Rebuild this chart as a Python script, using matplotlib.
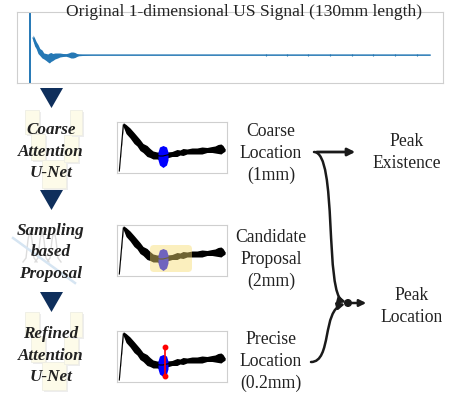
import matplotlib
matplotlib.use("Agg")
import matplotlib.pyplot as plt
from matplotlib.patches import Polygon, Rectangle, FancyBboxPatch, FancyArrowPatch, Circle
from matplotlib.path import Path

W, H = 454, 401
SERIF = ["Liberation Serif", "DejaVu Serif"]

# --- signal original (mm, amplitude) ---
sig_x = [1.0, 1.5, 2.0, 2.6, 3.2, 3.9, 4.5, 5.2, 5.8, 6.3, 6.8, 7.4, 8.1, 9.0, 9.7,
         10.7, 11.7, 12.5, 13.3, 14.0, 14.6, 15.2, 15.8, 17.0, 20.0, 130.0]
sig_c = [17, 13, 10, 6, 3, 1, -1, -2, -3, -3, -2, -2, -1, -0.5, 0,
         0, 0, 0, 0, 0, 0, 0, 0, 0, 0, 0]
sig_h = [3, 4, 3.5, 4.5, 3.5, 4, 3, 3.5, 4, 5, 4.5, 3.5, 3, 2.5, 2,
         1.5, 1.3, 2, 3, 3, 2.5, 1.5, 0.8, 0.5, 0.35, 0.35]
spike_x = 0.0
blips_x = [76.6, 83.4, 90.3, 97.4, 104.5, 111.4, 118.5, 125.6]

# --- signal zoomé (petites vignettes) ---
mini_x = [2.3, 6.3, 9, 13, 17, 20, 23, 26, 30, 33, 36, 40, 43, 46, 50, 55, 60, 63, 66,
          70, 75, 80, 85, 90, 95, 98, 101, 104, 106, 108]
mini_c = [2, 48.3, 44, 40, 35, 32, 28, 25, 22, 20, 18, 17.5, 17, 17, 18, 19, 20, 20.5, 21,
          21.5, 22, 22, 22.5, 23, 23.5, 23.5, 24, 24, 24, 23]
mini_h = [0.4, 2, 4.5, 5, 5.5, 5, 5.5, 4.5, 5.5, 4.5, 4, 3.5, 4, 3.5, 3, 2.5, 3.5, 2.5, 3.5,
          2.5, 3, 3, 3.5, 2.5, 3, 3.5, 4.5, 5, 3.5, 1.2]
blob_x = [41, 42.5, 46, 49.5, 51]
blob_hi = [21, 26, 27.5, 26, 21]
blob_lo = [13, 8, 5.5, 8, 13]
peak_pos = 48
peak_lo, peak_hi = 6, 35
cand_x = (33, 75)
cand_y = (4, 31)

etapes = [["Coarse", "Attention", "U-Net"],
          ["Sampling", "based", "Proposal"],
          ["Refined", "Attention", "U-Net"]]
sorties = [["Coarse", "Location", "(1mm)"],
           ["Candidate", "Proposal", "(2mm)"],
           ["Precise", "Location", "(0.2mm)"]]

NAVY = "#0f2f5c"
BLUE = "#2578b5"
TXT = "#222222"

fig = plt.figure(figsize=(W / 100, H / 100), dpi=100)
ax = fig.add_axes([0, 0, 1, 1])
ax.set_xlim(0, W)
ax.set_ylim(H, 0)
ax.axis("off")


def sous_axe(x0, y0, w, h):
    a = fig.add_axes([x0 / W, 1 - (y0 + h) / H, w / W, h / H])
    a.set_xticks([])
    a.set_yticks([])
    for s in a.spines.values():
        s.set_color("#cfcfcf")
        s.set_linewidth(0.8)
    return a


# signal du haut
top = sous_axe(17, 12, 426, 71)
top.set_xlim(-4.22, 134.2)
top.set_ylim(-28, 43)
lo = [c - h for c, h in zip(sig_c, sig_h)]
hi = [c + h for c, h in zip(sig_c, sig_h)]
top.fill_between(sig_x, lo, hi, color=BLUE, lw=0)
top.plot(sig_x, sig_c, color=BLUE, lw=0.9)
top.plot([spike_x, spike_x], [-60, 60], color=BLUE, lw=1.4)
top.vlines(blips_x, -1.2, 1.2, color=BLUE, lw=0.8)
fig.text(244 / W, 1 - 12 / H, "Original 1-dimensional US Signal (130mm length)",
         family=SERIF, fontsize=12.6, ha="center", va="center", color=TXT, zorder=10)

# triangles
for y in [88, 190, 292]:
    ax.add_patch(Polygon([[40, y], [63, y], [51.5, y + 20]], closed=True, color=NAVY, lw=0))

# icônes U-Net (décor pâle)
for y0 in [110, 312]:
    for (bx, by, bw, bh) in [(25, 0, 14, 24), (31, 24, 14, 26), (42, 50, 24, 28),
                             (64, 25, 14, 27), (70, 0, 12, 25)]:
        ax.add_patch(Rectangle((bx + 2, y0 + by + 2), bw, bh, color="#ededed", lw=0))
        ax.add_patch(Rectangle((bx, y0 + by), bw, bh, facecolor="#fdfbe9",
                               edgecolor="#eeeee4", lw=0.6))

# icône échantillonnage
for cx in [30, 42, 54]:
    xs = [cx - 7, cx - 4, cx - 2, cx, cx + 2, cx + 4, cx + 7]
    ys = [262, 258, 240, 230, 240, 258, 262]
    ax.plot(xs, ys, color="#dcdcdc", lw=1.0)
ax.plot([13, 75], [238, 283], color="#d6e5f2", lw=1.8)

for i, lignes in enumerate(etapes):
    y0 = [130, 231, 334][i]
    for j, t in enumerate(lignes):
        ax.text(51, y0 + j * 21.5, t, family=SERIF, fontsize=12.3, fontweight="bold",
                style="italic", ha="center", va="center", color=TXT, zorder=5)

# vignettes
boites = [(117, 122), (117, 225), (117, 331)]
for i, (bx, by) in enumerate(boites):
    a = sous_axe(bx, by, 110, 51)
    a.set_xlim(0, 110)
    a.set_ylim(0, 51)
    mlo = [c - h for c, h in zip(mini_c, mini_h)]
    mhi = [c + h for c, h in zip(mini_c, mini_h)]
    a.fill_between(mini_x, mlo, mhi, color="black", lw=0)
    a.plot(mini_x, mini_c, color="black", lw=0.8)
    a.fill_between(blob_x, blob_lo, blob_hi, color="#0000ff", lw=0)
    if i == 1:
        a.add_patch(FancyBboxPatch((cand_x[0], cand_y[0]), cand_x[1] - cand_x[0],
                                   cand_y[1] - cand_y[0], boxstyle="round,pad=0,rounding_size=4",
                                   facecolor="#f8dc70", alpha=0.45, lw=0, zorder=5))
    if i == 2:
        a.plot([peak_pos, peak_pos], [peak_lo, peak_hi], color="red", lw=1.2,
               marker="o", ms=3.2, zorder=6)

# sorties
for i, lignes in enumerate(sorties):
    y0 = [132, 238, 340][i]
    for j, t in enumerate(lignes):
        ax.text(271, y0 + j * 21.5, t, family=SERIF, fontsize=12.7, ha="center",
                va="center", color=TXT)
    ya = [149, 252, 347][i]
    ax.annotate("", xy=(227, ya), xytext=(220, ya),
                arrowprops=dict(arrowstyle="-|>", color="#1a1a1a", lw=1.2, mutation_scale=7))

for (x, y, t) in [(407, 142, "Peak"), (407, 163, "Existence"),
                  (412, 296, "Peak"), (412, 318, "Location")]:
    ax.text(x, y, t, family=SERIF, fontsize=12.7, ha="center", va="center", color=TXT)

ax.annotate("", xy=(358, 152), xytext=(314, 152),
            arrowprops=dict(arrowstyle="-|>", color="#1a1a1a", lw=2, mutation_scale=11))
c1 = Path([(314, 152), (338, 152), (324, 296), (346, 302)],
          [Path.MOVETO, Path.CURVE4, Path.CURVE4, Path.CURVE4])
ax.add_patch(FancyArrowPatch(path=c1, arrowstyle="-|>", color="#1a1a1a", lw=1.8,
                             mutation_scale=10))
c2 = Path([(311, 362), (332, 362), (322, 310), (345, 304)],
          [Path.MOVETO, Path.CURVE4, Path.CURVE4, Path.CURVE4])
ax.add_patch(FancyArrowPatch(path=c2, arrowstyle="-|>", color="#1a1a1a", lw=1.8,
                             mutation_scale=10))
ax.add_patch(Circle((348, 303), 3.3, color="#1a1a1a", zorder=6))
ax.annotate("", xy=(369, 303), xytext=(348, 303),
            arrowprops=dict(arrowstyle="-|>", color="#1a1a1a", lw=1.8, mutation_scale=10))

fig.savefig("out.png", dpi=100)
